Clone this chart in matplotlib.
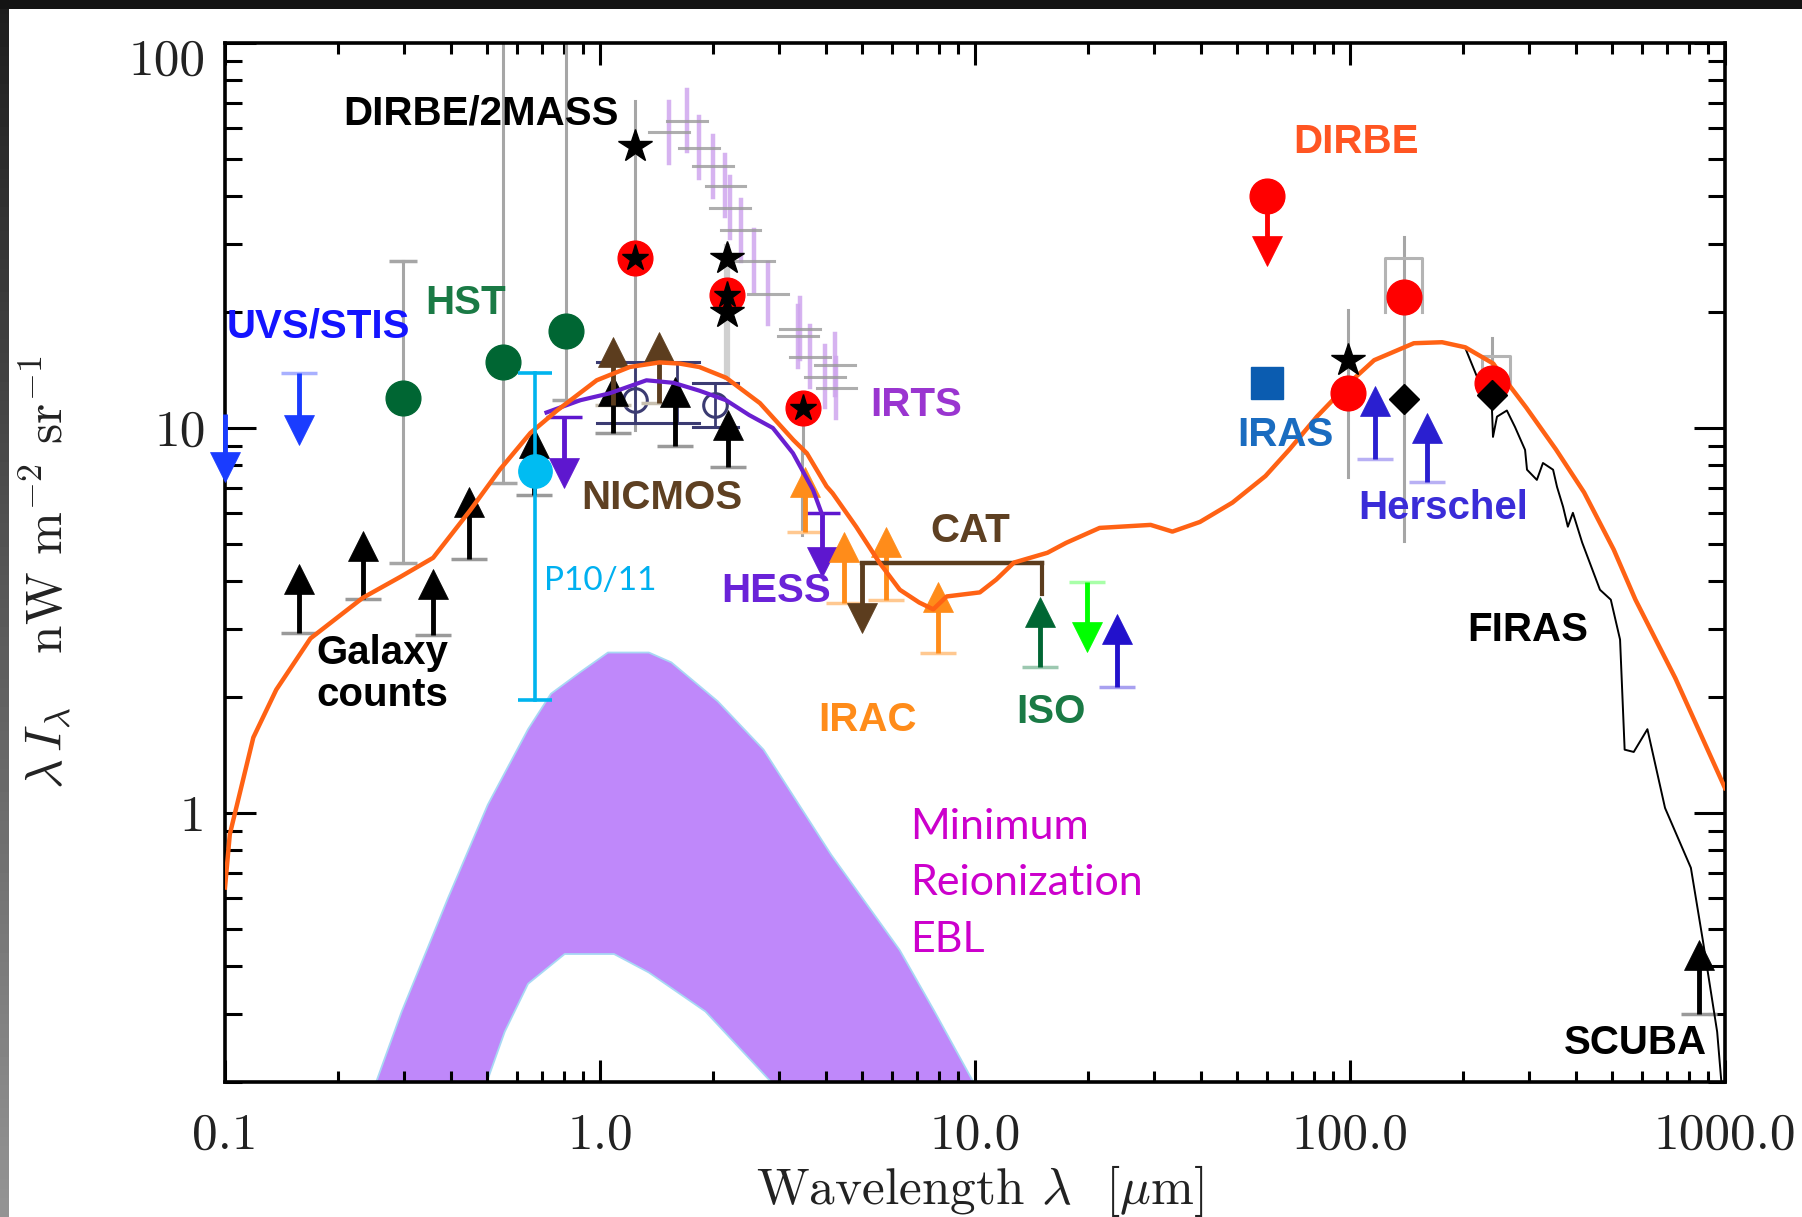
import numpy as np
import matplotlib
matplotlib.use("Agg")
import matplotlib.pyplot as plt
from matplotlib.ticker import FixedLocator, NullFormatter, LogLocator
from matplotlib.transforms import ScaledTranslation
from matplotlib.patches import Rectangle

plt.rcParams["mathtext.fontset"] = "cm"
plt.rcParams["axes.formatter.use_mathtext"] = True

# ---------------- data ----------------
# EBL model spectrum (orange)
model_wl = [0.1, 0.103, 0.119, 0.137, 0.169, 0.233, 0.293, 0.359, 0.45, 0.541, 0.652,
            0.768, 0.98, 1.2, 1.44, 1.63, 1.84, 2.17, 2.67, 3.28, 3.56, 4.02, 4.17, 4.82,
            5.56, 6.3, 7.1, 7.74, 8.4, 10.3, 11.4, 12.7, 15.6, 17.5, 21.5, 29.4, 33.6,
            39.8, 48.6, 59.5, 69, 81.6, 99.6, 116, 148, 176, 203, 241, 251, 295, 354,
            421, 505, 577, 737, 1000]
model_flux = [0.64, 0.88, 1.57, 2.09, 2.84, 3.62, 4.1, 4.6, 6.1, 7.8, 9.7,
              11.1, 13.3, 14.4, 14.8, 14.7, 14.4, 13.5, 11.6, 9.3, 8.6, 7.05, 6.77, 5.54,
              4.47, 3.8, 3.52, 3.38, 3.65, 3.74, 4.04, 4.47, 4.74, 5.03, 5.5, 5.6, 5.38,
              5.7, 6.4, 7.5, 8.8, 10.7, 13.1, 15.0, 16.6, 16.7, 16.2, 14.7, 13.9, 11.3, 8.8,
              6.8, 4.83, 3.58, 2.24, 1.16]

# near-IR model (violet)
nir_wl = [0.72, 0.885, 1.06, 1.33, 1.57, 1.84, 2.17, 2.5, 2.89, 3.27, 3.7, 3.9]
nir_flux = [10.97, 11.8, 12.3, 13.3, 13.1, 12.5, 11.8, 10.8, 10.0, 8.6, 6.9, 6.0]

# minimum reionization EBL band
band_up_wl = [0.253, 0.296, 0.393, 0.502, 0.643, 0.74, 0.885, 1.05, 1.35, 1.55, 2.06,
              2.73, 4.13, 6.3, 7.8, 9.9]
band_up_flux = [0.2, 0.305, 0.60, 1.05, 1.65, 2.04, 2.32, 2.61, 2.61, 2.46, 1.95,
                1.46, 0.78, 0.44, 0.305, 0.2]
band_in_wl = [0.499, 0.557, 0.643, 0.805, 1.09, 1.35, 1.91, 2.86]
band_in_flux = [0.2, 0.27, 0.36, 0.43, 0.43, 0.385, 0.305, 0.2]

# FIRAS spectrum
firas_wl = [202.6, 218, 239, 240.6, 246.6, 262, 275.4, 293, 296.5, 315, 327, 348,
            356.5, 370, 381, 393, 416, 464, 496, 525, 540, 571, 621, 692, 811, 873,
            953, 978]
firas_flux = [16.2, 13.6, 11.3, 9.48, 10.7, 11.1, 10.06, 8.77, 7.79, 7.33, 8.11, 7.79,
              7.03, 6.24, 5.54, 6.02, 5.04, 3.8, 3.58, 2.82, 1.46, 1.44, 1.65, 1.03, 0.72,
              0.466, 0.27, 0.2]

# IRTS
irts_wl = [1.53, 1.71, 1.84, 2.0, 2.16, 2.22, 2.37, 2.57, 2.8, 3.37, 3.41, 3.63, 3.98, 4.23, 4.27]
irts_flux = [58.6, 62.8, 53.5, 47.8, 42.6, 37.3, 32.6, 27.2, 22.3, 17.3, 18.1, 15.3, 13.6, 14.6, 12.7]

# HST points with errors
hst_wl = [0.299, 0.551, 0.81]
hst_flux = [11.96, 14.8, 17.9]
hst_lo = [4.47, 7.2, 11.8]
hst_hi = [27.2, 150.0, 150.0]

# P10/11
p10_wl = [0.67]
p10_flux = [7.74]
p10_lo = [1.96]
p10_hi = [13.9]

# DIRBE/2MASS
dm_star_wl = [1.24, 2.18, 2.18, 99.0]
dm_star_flux = [54.0, 27.7, 20.0, 15.0]
dirbe_wl = [1.24, 2.18, 3.47, 99.0, 139.3, 239.0]
dirbe_flux = [27.7, 22.1, 11.3, 12.3, 21.9, 13.1]
dirbe_lim_wl = [60.1]
dirbe_lim_top = [40.1]
dirbe_lim_tip = [26.4]
diamond_wl = [139.3, 239.0]
diamond_flux = [11.9, 12.2]
iras_wl = [60.1]
iras_flux = [13.1]

# gray error lines (wavelength, low, high)
err_wl = [1.24, 3.47, 99.0, 139.3, 239.0]
err_lo = [9.9, 8.6, 7.45, 5.1, 12.0]
err_hi = [70.6, 11.3, 20.2, 31.4, 17.1]

# NICMOS
nic_wl = [1.24, 2.03]
nic_flux = [11.8, 11.5]
nic_box_x0 = [0.98, 1.77]
nic_box_x1 = [1.84, 2.33]
nic_box_lo = [10.3, 10.06]
nic_box_hi = [14.8, 13.1]

# limits: (wavelength, base, tip)
uvs_wl = [0.1, 0.158]
uvs_base = [10.9, 13.9]
uvs_tip = [7.25, 9.03]

gal_wl = [0.158, 0.233, 0.359, 0.448, 0.667, 1.08, 1.585, 2.19]
gal_base = [2.94, 3.6, 2.9, 4.58, 6.7, 9.7, 8.98, 7.9]
gal_tip = [4.42, 5.38, 4.3, 7.0, 10.0, 13.6, 13.5, 11.1]

nicb_wl = [1.08, 1.44]
nicb_base = [11.5, 11.6]
nicb_tip = [17.2, 17.7]

hess_wl = [0.8, 3.9]
hess_base = [10.7, 6.0]
hess_tip = [7.0, 4.1]

irac_wl = [3.52, 4.48, 5.79, 7.96]
irac_base = [5.37, 3.5, 3.58, 2.6]
irac_tip = [7.9, 5.34, 5.5, 3.96]

cat_x0, cat_x1, cat_level = 5.0, 15.1, 4.47
cat_left_tip, cat_right_end = 2.94, 3.7

iso_wl = [14.9]
iso_base = [2.39]
iso_tip = [3.63]
lime_wl = [19.9]
lime_base = [3.99]
lime_tip = [2.63]
blue_wl = [23.9]
blue_base = [2.13]
blue_tip = [3.27]

hers_wl = [116.6, 160.0]
hers_base = [8.3, 7.24]
hers_tip = [12.8, 10.9]

scuba_wl = [853.0]
scuba_base = [0.30]
scuba_tip = [0.466]

x_ticks = [0.1, 1.0, 10.0, 100.0, 1000.0]
x_ticklabels = ["0.1", "1.0", "10.0", "100.0", "1000.0"]
y_ticks = [1, 10, 100]
y_ticklabels = ["1", "10", "100"]

# ---------------- figure ----------------
W, H = 1802, 1217
fig = plt.figure(figsize=(W / 100, H / 100), dpi=100)
fig.patch.set_facecolor("white")
ax = fig.add_axes([225 / W, 1 - 1082 / H, 1500 / W, 1039 / H])
ax.set_xscale("log")
ax.set_yscale("log")
ax.set_xlim(0.1, 1000)
ax.set_ylim(0.2, 100)

# frame around the picture
fig.patches.append(Rectangle((0, 1 - 9 / H), 1, 9 / H, transform=fig.transFigure,
                             facecolor="#141414", edgecolor="none", zorder=10))
strip = fig.add_axes([0, 0, 9 / W, 1 - 9 / H])
grad = np.linspace(0.12, 0.58, 256)[:, None]
strip.imshow(grad, aspect="auto", cmap="gray", vmin=0, vmax=1, origin="upper")
strip.set_axis_off()


def shifted(x, y, dpts):
    px, py = ax.transData.transform((x, y))
    py += dpts * fig.dpi / 72.0
    return ax.transData.inverted().transform((px, py))[1]


def draw_limits(xs, bases, tips, color, cap_color=None, head=21, lw=3.5, z=4, clip=True):
    for x, b, t in zip(xs, bases, tips):
        up = t > b
        sign = -1 if up else 1
        end = shifted(x, t, sign * head * 0.5)
        ax.plot([x, x], [b, end], color=color, lw=lw, solid_capstyle="butt", zorder=z,
                clip_on=clip)
        off = ScaledTranslation(0, sign * head / 2 / 72.0, fig.dpi_scale_trans)
        ax.plot([x], [t], ls="none", marker="^" if up else "v", ms=head, mfc=color,
                mec=color, mew=0.5, transform=ax.transData + off, zorder=z, clip_on=clip)
        if cap_color is not None:
            ax.plot([x], [b], ls="none", marker="_", ms=26, mew=2.5, color=cap_color,
                    zorder=z - 0.1, clip_on=clip)


# reionization band
ax.fill(band_up_wl + band_in_wl[::-1], band_up_flux + band_in_flux[::-1],
        facecolor="#bf88fa", edgecolor="none", zorder=1)
ax.plot(band_up_wl, band_up_flux, color="#a8d8f4", lw=1.3, zorder=1.1)
ax.plot(band_in_wl, band_in_flux, color="#a8d8f4", lw=1.3, zorder=1.1)

# gray error lines
for x, lo, hi in zip(hst_wl, hst_lo, hst_hi):
    ax.plot([x, x], [lo, hi], color="#a6a6a6", lw=2.2, zorder=2)
    ax.plot([x], [lo], ls="none", marker="_", ms=20, mew=2.5, color="#a6a6a6", zorder=2)
    if hi < 100:
        ax.plot([x], [hi], ls="none", marker="_", ms=20, mew=2.5, color="#a6a6a6", zorder=2)
for x, lo, hi in zip(err_wl, err_lo, err_hi):
    ax.plot([x, x], [lo, hi], color="#a6a6a6", lw=2.2, zorder=2)
ax.plot([2.18, 2.18], [13.6, 29.5], color="#d0d0d0", lw=4.5, zorder=2)
ax.plot([3.45, 3.45], [5.28, 8.77], color="#a6a6a6", lw=2.2, zorder=2)

# error boxes of far-IR points
for x0, x1, lo, hi in [(124, 156, 20.0, 27.6), (225, 267, 13.0, 15.4)]:
    ax.plot([x0, x0, x1, x1], [lo, hi, hi, lo], color="#b4b4b4", lw=2.2, zorder=2)

# IRTS crosses
for x, y in zip(irts_wl, irts_flux):
    ax.plot([x, x], [y / 1.2, y * 1.2], color="#cfa6ee", lw=3.2, alpha=0.85, zorder=2.2)
    ax.plot([x / 1.13, x * 1.13], [y, y], color="#9a9a9a", lw=2.2, alpha=0.8, zorder=2.3)

# NICMOS boxes and open circles
for x0, x1, lo, hi in zip(nic_box_x0, nic_box_x1, nic_box_lo, nic_box_hi):
    ax.plot([x0, x1], [hi, hi], color="#3b3b72", lw=2.2, zorder=3)
    ax.plot([x0, x1], [lo, lo], color="#3b3b72", lw=2.2, zorder=3)
for x, lo, hi in zip([1.24, 1.6, 2.03], [10.3, 10.3, 10.06], [14.8, 14.8, 13.1]):
    ax.plot([x, x], [lo, hi], color="#3b3b72", lw=2.0, zorder=3)
ax.plot(nic_wl, nic_flux, ls="none", marker="o", ms=17, mfc="none", mec="#3b3b72",
        mew=2.2, zorder=3)

# limit arrows
draw_limits(uvs_wl[:1], uvs_base[:1], uvs_tip[:1], "#1a3cff", z=8, clip=False)
draw_limits(uvs_wl[1:], uvs_base[1:], uvs_tip[1:], "#1a3cff", cap_color="#a8b0ff")
draw_limits(gal_wl, gal_base, gal_tip, "black", cap_color="#9a9a9a")
draw_limits(nicb_wl, nicb_base, nicb_tip, "#5c3d1e", cap_color="#c8c0b0")
draw_limits(hess_wl, hess_base, hess_tip, "#5e17cf", cap_color="#5e17cf")
draw_limits(irac_wl, irac_base, irac_tip, "#ff8c1a", cap_color="#ffc890")
draw_limits(iso_wl, iso_base, iso_tip, "#006633", cap_color="#9cc8b0")
draw_limits(lime_wl, lime_base, lime_tip, "#00ff00", cap_color="#a8ffa8")
draw_limits(blue_wl, blue_base, blue_tip, "#2211cc", cap_color="#a8a0f0")
draw_limits(hers_wl, hers_base, hers_tip, "#2a1fd0", cap_color="#b8b0f4")
draw_limits(scuba_wl, scuba_base, scuba_tip, "black", cap_color="#9a9a9a")
draw_limits(dirbe_lim_wl, dirbe_lim_top, dirbe_lim_tip, "#ff0000")

# CAT bracket
ax.plot([cat_x0, cat_x1], [cat_level, cat_level], color="#5c3d1e", lw=3.2, zorder=4)
ax.plot([cat_x1, cat_x1], [cat_level, cat_right_end], color="#5c3d1e", lw=3.0, zorder=4)
draw_limits([cat_x0], [cat_level], [cat_left_tip], "#5c3d1e")

# FIRAS
ax.plot(firas_wl, firas_flux, color="black", lw=1.4, zorder=4.5)

# model curves
ax.plot(nir_wl, nir_flux, color="#6a1fd0", lw=3.0, zorder=4.8)
ax.plot(model_wl, model_flux, color="#ff6214", lw=3.2, zorder=5)

# points
ax.plot(hst_wl, hst_flux, ls="none", marker="o", ms=25, mfc="#006633", mec="#006633", zorder=6)
for x, lo, hi in zip(p10_wl, p10_lo, p10_hi):
    ax.plot([x, x], [lo, hi], color="#00b4ee", lw=2.6, zorder=6)
    ax.plot([x, x], [lo, hi], ls="none", marker="_", ms=24, mew=2.6, color="#00b4ee", zorder=6)
ax.plot(p10_wl, p10_flux, ls="none", marker="o", ms=24, mfc="#00bcf2", mec="#00bcf2", zorder=6.5)
ax.plot(dirbe_wl, dirbe_flux, ls="none", marker="o", ms=25, mfc="#ff0000", mec="#ff0000", zorder=6)
ax.plot(dirbe_lim_wl, dirbe_lim_top, ls="none", marker="o", ms=25, mfc="#ff0000", mec="#ff0000", zorder=6)
ax.plot(dirbe_wl[:3], dirbe_flux[:3], ls="none", marker="*", ms=20, mfc="black", mec="black", zorder=6.5)
ax.plot(dm_star_wl, dm_star_flux, ls="none", marker="*", ms=25, mfc="black", mec="black", zorder=6.5)
ax.plot(diamond_wl, diamond_flux, ls="none", marker="D", ms=15, mfc="black", mec="black", zorder=6.5)
ax.plot(iras_wl, iras_flux, ls="none", marker="s", ms=23, mfc="#0b5cb0", mec="#0b5cb0", zorder=6)

# labels
bold = dict(family="Liberation Sans", weight="bold", fontsize=29, ha="center", va="center",
            zorder=7)
ax.text(0.4817, 65.5, "DIRBE/2MASS", color="black", **bold)
ax.text(0.439, 21.1, "HST", color="#1a7a45", **bold)
ax.text(0.177, 18.3, "UVS/STIS", color="#1414ff", **bold)
ax.text(0.262, 2.61, "Galaxy", color="black", **bold)
ax.text(0.262, 2.03, "counts", color="black", **bold)
ax.text(1.463, 6.59, "NICMOS", color="#5e4022", **bold)
ax.text(6.96, 11.47, "IRTS", color="#9a35d0", **bold)
ax.text(2.946, 3.76, "HESS", color="#6a22d8", **bold)
ax.text(9.70, 5.41, "CAT", color="#5e4022", **bold)
ax.text(5.18, 1.74, "IRAC", color="#ff8c1a", **bold)
ax.text(15.95, 1.83, "ISO", color="#1a7a45", **bold)
ax.text(103.8, 55.4, "DIRBE", color="#ff5522", **bold)
ax.text(67.1, 9.59, "IRAS", color="#1a6cc0", **bold)
ax.text(177, 6.2, "Herschel", color="#3a2cd8", **bold)
ax.text(298, 2.98, "FIRAS", color="black", **bold)
ax.text(575, 0.252, "SCUBA", color="black", **bold)
ax.text(1.0, 4.01, "P10/11", color="#00b0f0", family="Lato", fontsize=24,
        ha="center", va="center", zorder=7)
for y, s in zip([0.92, 0.659, 0.469], ["Minimum", "Reionization", "EBL"]):
    ax.text(6.71, y, s, color="#cc00cc", family="Lato", fontsize=31, ha="left",
            va="center", zorder=7)

# axes styling
for sp in ax.spines.values():
    sp.set_linewidth(2.6)
    sp.set_color("black")
ax.xaxis.set_major_locator(FixedLocator(x_ticks))
ax.set_xticklabels(x_ticklabels)
ax.xaxis.set_minor_locator(LogLocator(base=10, subs=np.arange(2, 10)))
ax.xaxis.set_minor_formatter(NullFormatter())
ax.yaxis.set_major_locator(FixedLocator(y_ticks))
ax.set_yticklabels(y_ticklabels)
ax.yaxis.set_minor_locator(LogLocator(base=10, subs=np.arange(2, 10)))
ax.yaxis.set_minor_formatter(NullFormatter())
ax.tick_params(axis="both", which="both", direction="in", top=True, right=True,
               width=2.2, color="black")
ax.tick_params(axis="x", which="major", length=16, pad=22)
ax.tick_params(axis="x", which="minor", length=8)
ax.tick_params(axis="y", which="major", length=22, pad=14)
ax.tick_params(axis="y", which="minor", length=12)
for lab in ax.get_xticklabels() + ax.get_yticklabels():
    lab.set_family("cmr10")
    lab.set_fontsize(37)
    lab.set_color("#222222")
# keep the top label inside the frame
top_label = ax.get_yticklabels()[-1]
top_label.set_transform(top_label.get_transform()
                        + ScaledTranslation(0, -10 / 72.0, fig.dpi_scale_trans))

ax.set_xlabel(r"Wavelength $\lambda$  [$\mu$m]", family="cmr10",
              fontsize=37, color="#222222")
ax.xaxis.set_label_coords(0.503, -0.078)
ax.xaxis.label.set_va("top")
ax.set_ylabel(r"$\lambda\, I_\lambda$   nW m$^{-2}$ sr$^{-1}$", family="cmr10",
              fontsize=37, color="#222222")
ax.yaxis.set_label_coords(-0.1007, 0.49)

fig.savefig("out.png", dpi=100)
